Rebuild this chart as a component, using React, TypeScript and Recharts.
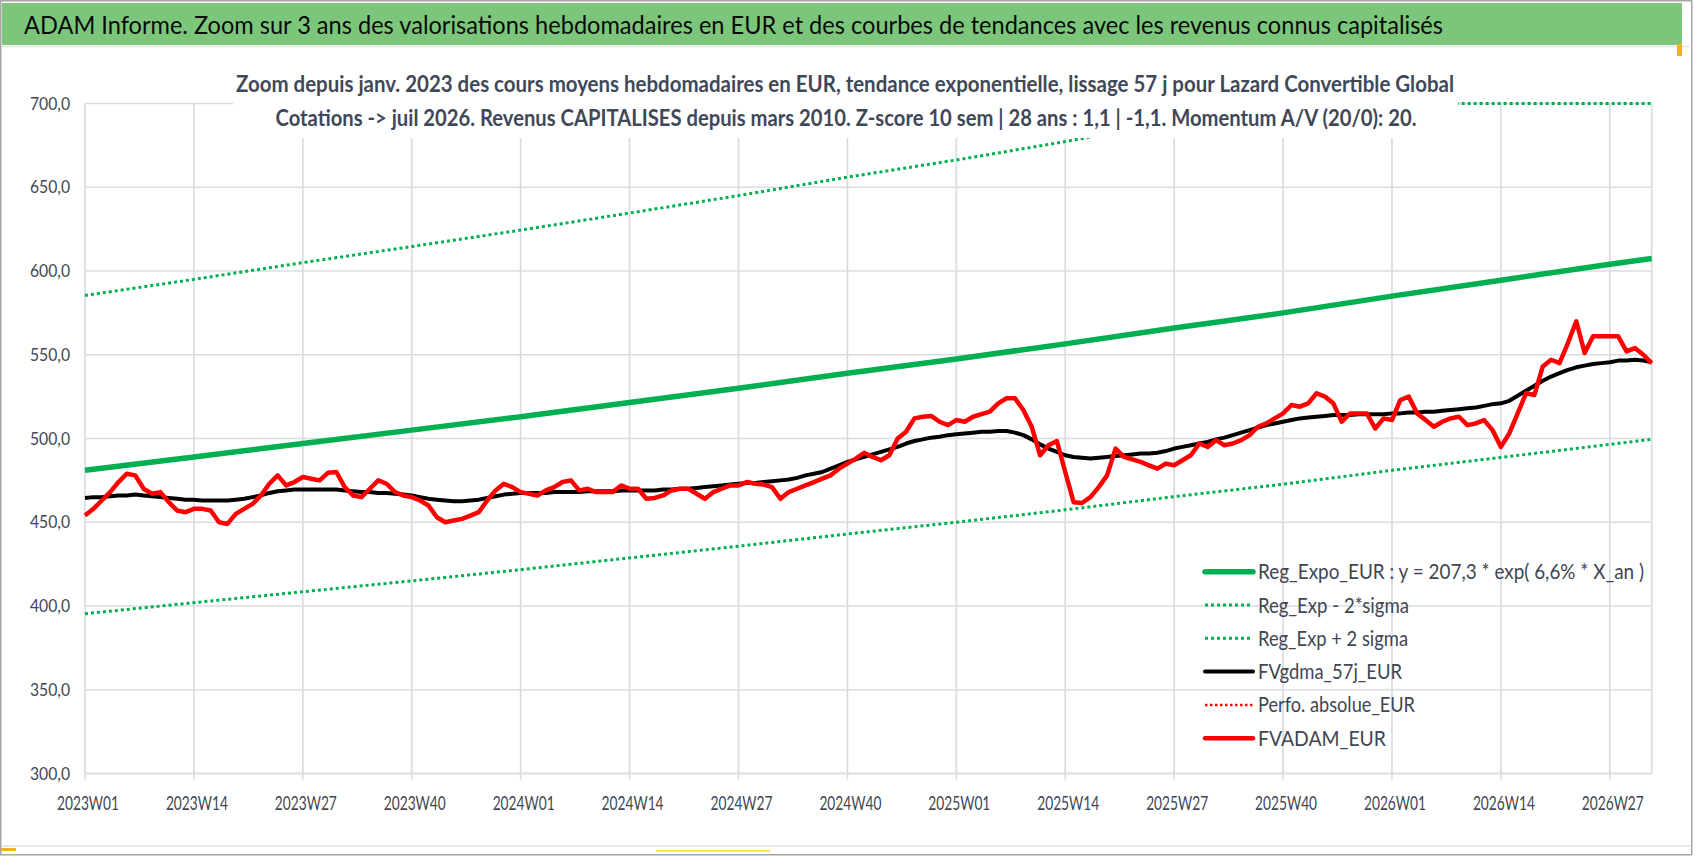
import React from 'react';
import { LineChart, Line, XAxis, YAxis, CartesianGrid } from 'recharts';

// ---------- categories ----------
const years = [2023, 2024, 2025, 2026];
const weeksInYear = [52, 52, 52, 32];
const weekLabels: string[] = [];
years.forEach((yr, k) => {
  for (let w = 1; w <= weeksInYear[k]; w++) weekLabels.push(`${yr}W${String(w).padStart(2, '0')}`);
});

const yTicks = [300, 350, 400, 450, 500, 550, 600, 650, 700];

// ---------- series values ----------
const fvadamEur = [
  454, 458, 463, 468, 474, 479, 478, 470, 467, 468, 462, 457, 456, 458, 458, 457, 450, 449, 455, 458,
  461, 466, 473, 478, 472, 474, 477, 476, 475, 479.5, 480, 471, 466, 465, 470, 475, 473, 468, 466, 465,
  463, 460, 453, 450, 451, 452, 454, 456, 463, 469, 473, 471, 468, 467, 466, 469, 471, 474, 475, 469,
  470, 468, 468, 468, 472, 470, 470, 464, 464.5, 466, 469, 470, 470, 467, 464, 468, 470, 472, 472, 474,
  473, 472.5, 471, 464, 468, 470, 472, 474, 476, 478, 482, 485, 488, 491.5, 489, 487, 490, 500, 504, 512,
  513, 513.5, 510, 508, 511, 510, 513, 514.5, 516, 521, 524, 524, 517, 507, 490, 496, 498.5, 480, 462, 461.5,
  465, 471, 478, 494, 489, 487.5, 486, 484, 482, 485, 484, 487, 490, 497, 495, 499, 496, 497, 499, 502,
  507, 509, 512, 515, 520, 519, 521, 527, 525, 521, 510, 515, 515, 515, 506, 512, 511, 523, 525, 515,
  511, 507, 510, 512, 513, 508, 509, 511, 505, 495, 503, 515, 527, 526, 543, 547, 545, 557, 570, 551,
  561, 561, 561, 561, 552, 554, 550, 545,
];

const fvgdma57j = [
  464.5, 465, 465, 465.5, 466, 466, 466.5, 466, 465.5, 465, 464.5, 464, 463.5, 463.5, 463, 463, 463, 463, 463.5, 464,
  465, 466, 467.5, 468.5, 469, 469.5, 469.5, 469.5, 469.5, 469.5, 469.5, 469, 468.5, 468, 468, 467.5, 467.5, 467, 466.5, 466,
  465, 464, 463.5, 463, 462.5, 462.5, 463, 463.5, 464.5, 465.5, 466.5, 467, 467.5, 467.5, 467.5, 467.5, 468, 468, 468, 468,
  468.5, 468.5, 468.5, 468.5, 469, 469, 469, 469, 469, 469.5, 469.5, 470, 470, 470.5, 471, 471.5, 472, 472.5, 473, 473.5,
  473.5, 474, 474.5, 475, 475.5, 476.5, 478, 479, 480, 482, 484, 486, 487.5, 489, 490.5, 492, 493.5, 495, 497, 498.5,
  499.5, 500.5, 501, 502, 502.5, 503, 503.5, 504, 504, 504.5, 504.5, 503.5, 502, 499.5, 496.5, 494, 492, 490, 489, 488.5,
  488, 488.5, 489, 489.5, 490, 490.5, 491, 491, 491.5, 492.5, 494, 495, 496, 497, 498, 499.5, 500.5, 502, 503.5, 505,
  506.5, 508, 509, 510, 511, 512, 512.5, 513, 513.5, 514, 514, 514, 514.5, 514.5, 514.5, 514.5, 515, 515, 515.5, 515.5,
  516, 516, 516.5, 517, 517.5, 518, 518.5, 519.5, 520.5, 521, 522.5, 525.5, 528.5, 531.5, 534.5, 537, 539, 541, 542.5, 543.5,
  544.5, 545, 545.5, 546.5, 546.5, 547, 546.5, 545.5,
];

// trend curves read at the gridline weeks (category index) and at the last week
const trendIndex = [0, 13, 26, 39, 52, 65, 78, 91, 104, 117, 130, 143, 156, 169, 182, 187];
const regExpoEur = [481, 489, 497, 505, 513, 521.5, 530, 539, 547.5, 556.5, 566, 575, 585, 594.5, 604, 607.5];
const regExpMinus2Sigma = [395.4, 402, 408.5, 415, 421.7, 428.7, 435.7, 443, 450, 457.4, 465.3, 472.7, 481, 488.7, 496.5, 499.5];
const regExpPlus2Sigma = [585.4, 595, 605, 614.6, 624.4, 634.6, 645, 656, 666.3, 677.3, 689, 700, 700, 700, 700, 700];

// ---------- texts ----------
const titleText =
  'ADAM Informe. Zoom sur 3 ans des valorisations hebdomadaires en EUR et des courbes de tendances avec les revenus connus capitalisés';
const subtitle1 =
  'Zoom depuis janv. 2023 des cours moyens hebdomadaires en EUR, tendance exponentielle, lissage 57 j pour Lazard Convertible Global';
const subtitle2 =
  'Cotations -> juil 2026. Revenus CAPITALISES depuis mars 2010. Z-score 10 sem | 28 ans : 1,1 | -1,1. Momentum A/V (20/0): 20.';

const seriesNames = {
  reg: 'Reg_Expo_EUR : y = 207,3 * exp( 6,6% * X_an )',
  low: 'Reg_Exp - 2*sigma',
  high: 'Reg_Exp + 2 sigma',
  gdma: 'FVgdma_57j_EUR',
  perfo: 'Perfo. absolue_EUR',
  adam: 'FVADAM_EUR',
};

// ---------- build table ----------
const trendAt = (arr: number[], i: number) => {
  const k = trendIndex.indexOf(i);
  return k >= 0 ? arr[k] : null;
};
const data = weekLabels.map((week, i) => ({
  week,
  reg: trendAt(regExpoEur, i),
  low: trendAt(regExpMinus2Sigma, i),
  high: trendAt(regExpPlus2Sigma, i),
  gdma: fvgdma57j[i] ?? null,
  perfo: null as number | null,
  adam: fvadamEur[i] ?? null,
}));

// ---------- styles ----------
const FONT = 'Lato, "Open Sans", sans-serif';
const GREEN = '#00B050';
const GRID = '#D9DCE3';
const TEXT = '#404652';

const legendRows = [
  { key: 'reg', color: GREEN, w: 5.5, dash: undefined as string | undefined, tl: 386 },
  { key: 'low', color: GREEN, w: 3, dash: '3 3', tl: 151 },
  { key: 'high', color: GREEN, w: 3, dash: '3 3', tl: 150 },
  { key: 'gdma', color: '#000000', w: 4, dash: undefined, tl: 144 },
  { key: 'perfo', color: '#FF0000', w: 2.5, dash: '2.5 2.5', tl: 157 },
  { key: 'adam', color: '#FF0000', w: 4.5, dash: undefined, tl: 128 },
];

const XTick = (props: any) => {
  const { x, y, payload } = props;
  return (
    <text x={x + 3} y={y + 28} textAnchor="middle" fontSize={19} fill={TEXT} fontFamily={FONT}
      textLength={62} lengthAdjust="spacingAndGlyphs">
      {payload.value}
    </text>
  );
};

const YTick = (props: any) => {
  const { x, y, payload } = props;
  const label = Number(payload.value).toFixed(1).replace('.', ',');
  return (
    <text x={x} y={y + 6} textAnchor="end" fontSize={18} fill={TEXT} fontFamily={FONT}
      textLength={40} lengthAdjust="spacingAndGlyphs">
      {label}
    </text>
  );
};

const LEG_X = 1205;
const LEG_Y = 571.7;
const LEG_STEP = 33.3;

export default function App() {
  return (
    <div style={{ position: 'relative', width: 1698, height: 856, background: '#ffffff', overflow: 'hidden', fontFamily: FONT }}>
      <style>{'body{margin:0;}'}</style>
      <div style={{ position: 'absolute', left: 0, top: 0 }}>
        <LineChart width={1698} height={856} data={data}
          margin={{ top: 103.5, right: 46.3, bottom: 0, left: 0 }}>
          <CartesianGrid stroke={GRID} strokeWidth={1.7} />
          <XAxis dataKey="week" interval={12} height={82.5} tickSize={6} tickMargin={2}
            axisLine={{ stroke: GRID, strokeWidth: 1.7 }} tickLine={{ stroke: GRID, strokeWidth: 1.7 }}
            tick={<XTick />} />
          <YAxis type="number" domain={[300, 700]} ticks={yTicks} width={85} tickSize={0} tickMargin={15}
            axisLine={false} tickLine={false} tick={<YTick />} />
          <Line dataKey="reg" name={seriesNames.reg} stroke={GREEN} strokeWidth={5.5} dot={false} activeDot={false}
            connectNulls isAnimationActive={false} strokeLinejoin="round" />
          <Line dataKey="low" name={seriesNames.low} stroke={GREEN} strokeWidth={3} strokeDasharray="3 3" dot={false}
            activeDot={false} connectNulls isAnimationActive={false} />
          <Line dataKey="high" name={seriesNames.high} stroke={GREEN} strokeWidth={3} strokeDasharray="3 3" dot={false}
            activeDot={false} connectNulls isAnimationActive={false} />
          <Line dataKey="gdma" name={seriesNames.gdma} stroke="#000000" strokeWidth={4} dot={false} activeDot={false}
            isAnimationActive={false} strokeLinejoin="round" />
          <Line dataKey="perfo" name={seriesNames.perfo} stroke="#FF0000" strokeWidth={2.5} strokeDasharray="2.5 2.5"
            dot={false} activeDot={false} isAnimationActive={false} />
          <Line dataKey="adam" name={seriesNames.adam} stroke="#FF0000" strokeWidth={4.5} dot={false} activeDot={false}
            isAnimationActive={false} strokeLinejoin="round" />
        </LineChart>
      </div>
      <svg width={1698} height={856} style={{ position: 'absolute', left: 0, top: 0, pointerEvents: 'none' }}>
        {/* title bar */}
        <rect x={2} y={3} width={1680} height={42} fill="#7CC67C" />
        <line x1={2} x2={1690} y1={46.5} y2={46.5} stroke="#E4E4E4" strokeWidth={1.5} />
        <text x={24} y={33.5} fontSize={25} fill="#0a0a0a" fontFamily={FONT}
          textLength={1419} lengthAdjust="spacingAndGlyphs">{titleText}</text>
        {/* subtitle box */}
        <rect x={233} y={56} width={1225} height={82} fill="#ffffff" />
        <text x={845} y={92} textAnchor="middle" fontSize={22.2} fontWeight={700} fill="#3F4858" fontFamily={FONT}
          textLength={1218} lengthAdjust="spacingAndGlyphs">{subtitle1}</text>
        <text x={846} y={125.5} textAnchor="middle" fontSize={22.2} fontWeight={700} fill="#3F4858" fontFamily={FONT}
          textLength={1141} lengthAdjust="spacingAndGlyphs">{subtitle2}</text>
        {/* legend */}
        {legendRows.map((r, k) => {
          const cy = LEG_Y + k * LEG_STEP;
          return (
            <g key={r.key}>
              <line x1={LEG_X} x2={LEG_X + 48} y1={cy} y2={cy} stroke={r.color} strokeWidth={r.w}
                strokeDasharray={r.dash} strokeLinecap={r.dash ? 'butt' : 'round'} />
              <text x={0} y={0} transform={`translate(${LEG_X + 53}, ${cy + 7.5}) scale(1, 1.15)`}
                fontSize={19} fill={TEXT} fontFamily={FONT}
                textLength={r.tl} lengthAdjust="spacingAndGlyphs">
                {(seriesNames as any)[r.key]}
              </text>
            </g>
          );
        })}
        {/* frame */}
        <line x1={2} x2={1690} y1={846} y2={846} stroke="#E0E0E0" strokeWidth={1.5} />
        <rect x={0.75} y={0.75} width={1691} height={854} fill="none" stroke="#A6A6A6" strokeWidth={1.5} />
        <rect x={1677} y={44} width={5} height={12} fill="#F2B318" />
        <rect x={1} y={848} width={15} height={3} fill="#F2B318" />
        <rect x={656} y={850} width={114} height={2} fill="#F5E65A" />
      </svg>
    </div>
  );
}
